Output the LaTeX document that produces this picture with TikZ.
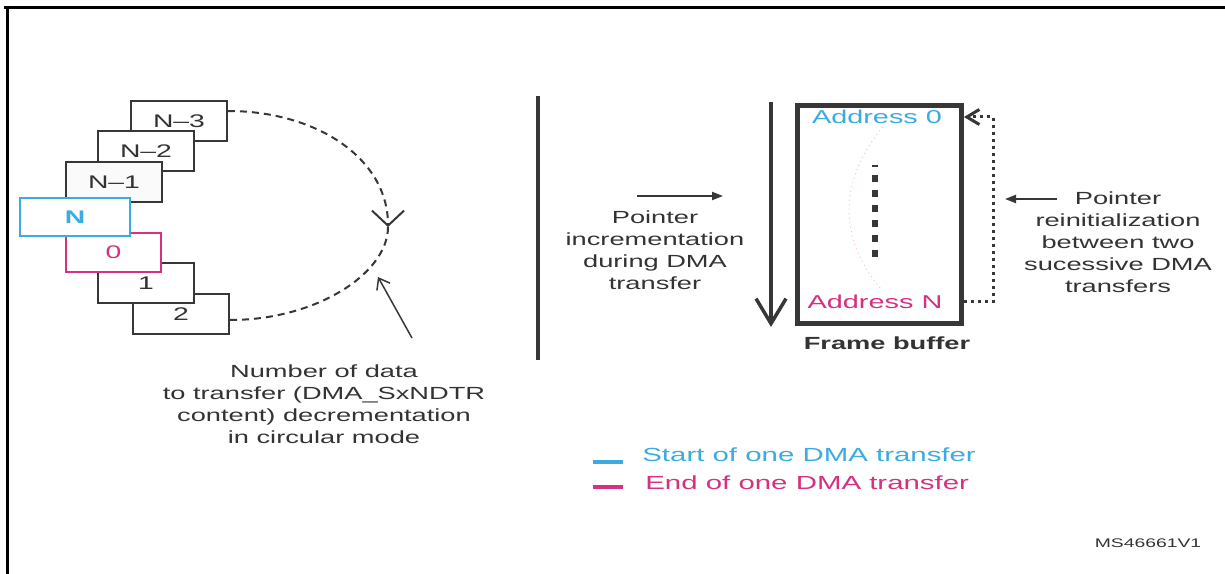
\documentclass[tikz,border=0pt]{standalone}
\usepackage{fontspec}
\setmainfont{Liberation Sans}[FakeStretch=1.55]
\usetikzlibrary{arrows.meta,positioning}
\definecolor{stblue}{RGB}{59,171,224}
\definecolor{stpink}{RGB}{214,48,128}
\definecolor{linegray}{RGB}{55,55,55}
\definecolor{textgray}{RGB}{51,51,51}
\tikzset{
  box/.style={draw=linegray, line width=0.04cm, fill=white, minimum width=1.92cm, minimum height=0.8cm, inner sep=0pt, text=textgray, font=\fontsize{10.4}{12}\selectfont},
  lbl/.style={align=center, text=textgray, inner sep=0pt, font=\fontsize{10}{12.5}\selectfont},
  dotline/.style={linegray, line width=0.06cm, dash pattern=on 0.06cm off 0.08cm},
  cycline/.style={linegray, line width=0.04cm, dash pattern=on 0.14cm off 0.1cm},
}

\begin{document}
\begin{tikzpicture}[x=0.02cm,y=-0.02cm,>={Straight Barb}]
\useasboundingbox (0,0) rectangle (1225,574);
\draw[line width=0.06cm] (4,7.5) -- (1225,7.5);
\draw[line width=0.06cm] (7.5,6) -- (7.5,574);

\node (nm3) [box] at (179,121) {N--3};
\node (nm2) [box] at (146,151) {N--2};
\node (nm1) [box, fill=black!2] at (114,182) {N--1};
\node (two) [box] at (181,314) {2};
\node (one) [box] at (146,283) {1};
\node (zero) [box, draw=stpink, text=stpink] at (113.5,252.5) {0};
\node (nn) [box, draw=stblue, text=stblue, minimum width=2.2cm, minimum height=0.76cm, font=\bfseries\fontsize{10.4}{12}\selectfont] at (75,217) {N};

\coordinate (cyc) at (388,227);
\draw[cycline, -{Straight Barb[length=0.3cm,width=0.64cm]}] ([yshift=0.2cm]nm3.east) .. controls (316,111) and (388,158) .. (cyc);
\draw[cycline] (cyc) .. controls (388,273) and (317,320) .. ([yshift=-0.12cm]two.east);

\node (ndtr) [lbl] at (324,404) {Number of data\\to transfer (DMA\_SxNDTR\\content) decrementation\\in circular mode};
\coordinate (ntail) at (412,338);
\coordinate (ntip) at (378,277);
\draw[linegray, line width=0.03cm, -{Straight Barb[length=0.2cm,width=0.3cm]}] (ntail) -- (ntip);

\draw[linegray, line width=0.085cm] (538,96) -- (538,360);

\node (incr) [lbl] at (655,250) {Pointer\\incrementation\\during DMA\\transfer};
\coordinate (itail) at (637,196);
\coordinate (itip) at (723,196);
\draw[linegray, line width=0.04cm, -{Triangle[length=0.22cm,width=0.16cm]}] (itail) -- (itip);

\coordinate (dtop) at (771,102);
\coordinate (dbot) at (771,327);
\draw[linegray, line width=0.07cm, -{Straight Barb[length=0.5cm,width=0.6cm]}] (dtop) -- (dbot);

\node (fb) [draw=linegray, line width=0.1cm, minimum width=3.28cm, minimum height=4.36cm, inner sep=0pt] at (879.5,214.5) {};
\draw[stpink!30, line width=0.02cm, dotted] (883,127) .. controls (838,180) and (838,240) .. (882,290);
\draw[linegray, line width=0.13cm, dash pattern=on 0.14cm off 0.16cm, dash phase=0.1cm] (875,165) -- (875,258);
\node (addr0) [text=stblue, font=\fontsize{10.6}{12}\selectfont] at (877,117) {Address 0};
\node (addrN) [text=stpink, font=\fontsize{10.6}{12}\selectfont] at (875,302) {Address N};
\node (fbl) [below=0.1cm of fb, xshift=0.15cm, text=textgray, font=\bfseries\fontsize{10}{12}\selectfont] {Frame buffer};

\coordinate (ret) at (993,0);
\draw[dotline, -{Straight Barb[length=0.25cm,width=0.3cm]}] (fb.east |- addrN) -- (ret |- addrN) -- (ret |- addr0) -- (fb.east |- addr0);

\node (reinit) [lbl] at (1118,242.5) {Pointer\\reinitialization\\between two\\sucessive DMA\\transfers};
\coordinate (rtail) at (1057,199);
\coordinate (rtip) at (1005,199);
\draw[linegray, line width=0.04cm, -{Triangle[length=0.22cm,width=0.16cm]}] (rtail) -- (rtip);

\draw[stblue, line width=0.08cm] (593,462) -- (623,462);
\draw[stpink, line width=0.08cm] (593,487) -- (623,487);
\node (lstart) [anchor=west, text=stblue, inner sep=0pt, font=\fontsize{10.8}{12}\selectfont] at (642,455) {Start of one DMA transfer};
\node (lend) [anchor=west, text=stpink, inner sep=0pt, font=\fontsize{10.8}{12}\selectfont] at (645,483) {End of one DMA transfer};

\node (ms) [text=textgray, font=\fontsize{7.1}{9}\selectfont] at (1148,543) {MS46661V1};
\end{tikzpicture}
\end{document}
